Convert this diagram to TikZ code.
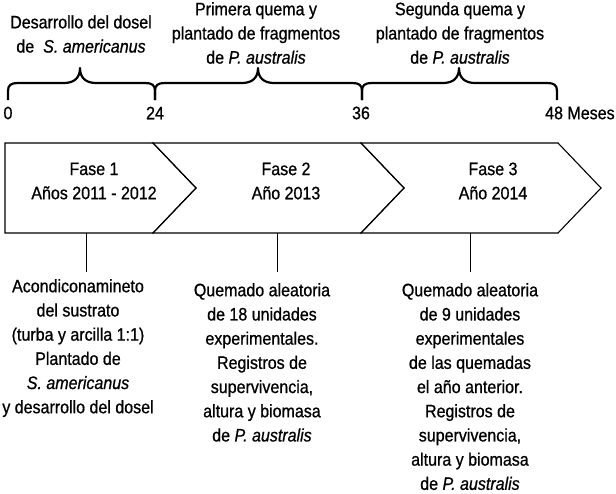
\documentclass[tikz,border=0pt]{standalone}
\usepackage{fontspec}
\setmainfont{Liberation Sans}[FakeStretch=0.89,FakeBold=0.8]
\newcommand\TLbrace[3]{%
  \draw[bracestyle] (#1,100) -- (#1,91) .. controls (#1,85) and (#1+3,83) .. (#1+10,83)
    -- (#2-16,83) .. controls (#2-6,83) and (#2,78) .. (#2,68)
    .. controls (#2,78) and (#2+6,83) .. (#2+16,83)
    -- (#3-10,83) .. controls (#3-3,83) and (#3,85) .. (#3,91) -- (#3,100);}
\begin{document}
\begin{tikzpicture}[x=1pt,y=-1pt,
  txt/.style={font=\fontsize{18}{24.2}\selectfont, align=center, inner sep=0pt},
  bracestyle/.style={line width=2.2pt, line join=round},
  chev/.style={draw, line width=1.1pt, line join=miter},
  conn/.style={line width=1pt}]
\useasboundingbox (0,0) rectangle (616,493);
% braces
\TLbrace{8}{80}{155}
\TLbrace{155}{258}{362}
\TLbrace{362}{459}{557}
% brace labels
\node[txt] (b1) at (81,34) {Desarrollo del dosel\\de\hspace{0.5em}\textit{S. americanus}};
\node[txt] (b2) at (256,33) {Primera quema y\\plantado de fragmentos\\de \textit{P. australis}};
\node[txt] (b3) at (460,33) {Segunda quema y\\plantado de fragmentos\\de \textit{P. australis}};
% ticks
\node[txt] (t0) at (8,113) {0};
\node[txt] (t24) at (155,113) {24};
\node[txt] (t36) at (361,113) {36};
\node[txt, anchor=west] (t48) at (545,113) {48 Meses};
% chevrons
\draw[chev] (5,143) -- (153,143) -- (196,188) -- (153,233) -- (5,233) -- cycle;
\draw[chev] (153,143) -- (361,143) -- (404,188) -- (361,233) -- (153,233) -- (196,188) -- cycle;
\draw[chev] (361,143) -- (558,143) -- (601,188) -- (558,233) -- (361,233) -- (404,188) -- cycle;
\node[txt] (f1) at (94,181) {Fase 1\\Años 2011 - 2012};
\node[txt] (f2) at (286,181) {Fase 2\\Año 2013};
\node[txt] (f3) at (493,181) {Fase 3\\Año 2014};
% connectors
\coordinate (p1) at (86,233); \coordinate (q1) at (86,272);
\coordinate (p2) at (277,233); \coordinate (q2) at (277,272);
\coordinate (p3) at (470,233); \coordinate (q3) at (470,272);
\draw[conn] (p1) -- (q1);
\draw[conn] (p2) -- (q2);
\draw[conn] (p3) -- (q3);
% descriptions
\node[txt, anchor=north] (d1) at (78,279) {Acondiconamineto\\del sustrato\\(turba y arcilla 1:1)\\Plantado de\\\textit{S. americanus}\\y desarrollo del dosel};
\node[txt, anchor=north] (d2) at (262,283) {Quemado aleatoria\\de 18 unidades\\experimentales.\\Registros de\\supervivencia,\\altura y biomasa\\de \textit{P. australis}};
\node[txt, anchor=north] (d3) at (470,283) {Quemado aleatoria\\de 9 unidades\\experimentales\\de las quemadas\\el año anterior.\\Registros de\\supervivencia,\\altura y biomasa\\de \textit{P. australis}};
\end{tikzpicture}
\end{document}
